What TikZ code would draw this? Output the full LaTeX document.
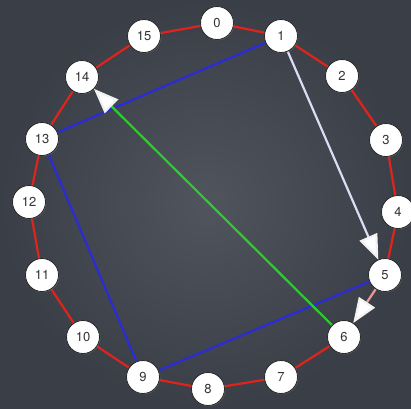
\documentclass[tikz,border=0pt]{standalone}
\usepackage{fontspec}
\setmainfont{TeX Gyre Heros}
\usetikzlibrary{arrows.meta,shadows}
\definecolor{ring}{HTML}{E0241C}
\definecolor{chord}{HTML}{2B2BD8}
\definecolor{diag}{HTML}{2ECC2E}
\definecolor{pale}{HTML}{DCDCF4}
\definecolor{palered}{HTML}{E89A92}
\definecolor{bgin}{RGB}{80,84,92}
\definecolor{bgout}{RGB}{58,62,70}
\tikzset{
  vtx/.style={circle, fill=white, draw=black!85, line width=0.8pt, minimum size=33pt, inner sep=0pt,
    font=\fontsize{13}{15}\selectfont, text=black!80,
    drop shadow={opacity=0.45, shadow xshift=0.8pt, shadow yshift=-0.8pt}},
  redge/.style={draw=ring, line width=2.2pt},
  bedge/.style={draw=chord, line width=2.2pt},
  bigtip/.style={-{Triangle[length=25pt,width=19pt,fill=white,color=white!90!gray]}},
}
\begin{document}
\begin{tikzpicture}[x=1pt,y=-1pt]
\useasboundingbox (0,0) rectangle (411,408);
\shade[inner color=bgin, outer color=bgout] (0,0) rectangle (411,408);
% node positions
\coordinate (p0) at (217,23);
\coordinate (p1) at (281,36);
\coordinate (p2) at (342,76);
\coordinate (p3) at (386,140);
\coordinate (p4) at (398,212);
\coordinate (p5) at (385,275);
\coordinate (p6) at (344,337);
\coordinate (p7) at (281,377);
\coordinate (p8) at (208,389);
\coordinate (p9) at (143,377);
\coordinate (p10) at (83,337);
\coordinate (p11) at (42,275);
\coordinate (p12) at (29,202);
\coordinate (p13) at (42,139);
\coordinate (p14) at (82,77);
\coordinate (p15) at (144,36);
% invisible node shapes for border clipping
\foreach \i in {0,...,15} \node[circle, minimum size=33pt, inner sep=0pt] (n\i) at (p\i) {};
% ring edges
\foreach \a/\b in {15/0,0/1,1/2,2/3,3/4,4/5,6/7,7/8,8/9,9/10,10/11,11/12,12/13,13/14,14/15}
  \draw[redge] (n\a) -- (n\b);
% blue chords
\draw[bedge] (n1) -- (n13);
\draw[bedge] (n13) -- (n9);
\draw[bedge] (n9) -- (n5);
% arrows
\draw[draw=pale, line width=2.2pt, bigtip] (n1) -- (n5);
\draw[draw=palered, line width=2.2pt, bigtip] (n5) -- (n6);
\draw[draw=diag, line width=2.2pt, bigtip] (n6) -- (n14);
% visible nodes
\foreach \i in {0,...,15} \node[vtx] (v\i) at (p\i) {\i};
\end{tikzpicture}
\end{document}
